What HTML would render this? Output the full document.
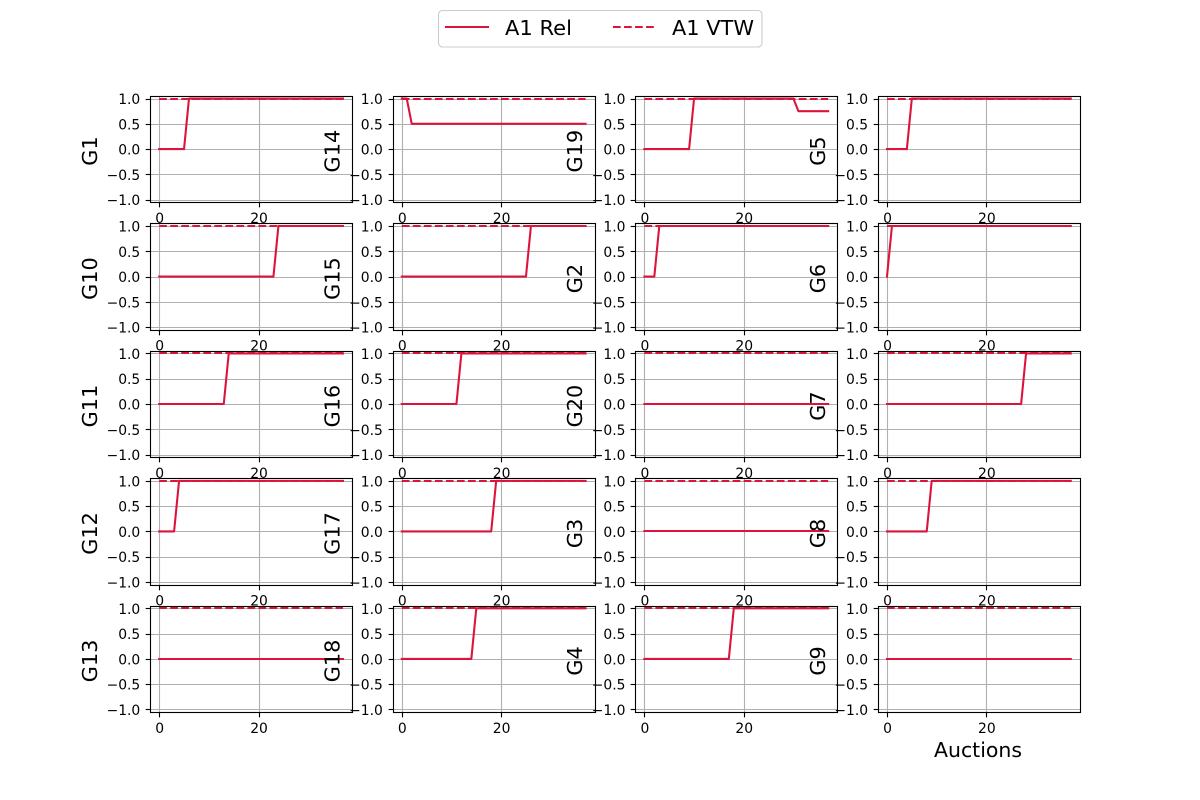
<!DOCTYPE html>
<html lang="en">
<head>
<meta charset="utf-8">
<title>A1 Rel and A1 VTW by group</title>
<style>
html,body{margin:0;padding:0;background:#fff;}
svg{display:block;font-family:"DejaVu Sans","Liberation Sans",sans-serif;}
</style>
</head>
<body>
<svg id="chart" xmlns="http://www.w3.org/2000/svg" width="1200" height="800" viewBox="0 0 1200 800">
  <rect x="0" y="0" width="1200" height="800" fill="#fff"/>
  <g id="panels"></g>
  <g>
    <rect x="438.5" y="10.5" width="323.5" height="36.5" rx="4" ry="4" fill="#fff" fill-opacity="0.8" stroke="#ccc" stroke-width="1.11"/>
    <line x1="446" y1="27" x2="488" y2="27" stroke="#dc143c" stroke-width="2.08" stroke-linecap="square"/>
    <text x="505" y="35" font-size="20.83" fill="#000" textLength="67" lengthAdjust="spacingAndGlyphs">A1 Rel</text>
    <line x1="613" y1="27" x2="655" y2="27" stroke="#dc143c" stroke-width="2.08" stroke-dasharray="7.7 3.33"/>
    <text x="672" y="35" font-size="20.83" fill="#000" textLength="82" lengthAdjust="spacingAndGlyphs">A1 VTW</text>
  </g>
</svg>
<script>
const auctions = [0,1,2,3,4,5,6,7,8,9,10,11,12,13,14,15,16,17,18,19,20,21,22,23,24,25,26,27,28,29,30,31,32,33,34,35,36,37];
const xTicks = [0, 20];
const yTicks = [-1, -0.5, 0, 0.5, 1];
const yTickLabels = ["\u22121.0", "\u22120.5", "0.0", "0.5", "1.0"];
const groupNames = ["G1","G10","G11","G12","G13","G14","G15","G16","G17","G18","G19","G2","G20","G3","G4","G5","G6","G7","G8","G9"];
const vtwValues = [1,1,1,1,1,1,1,1,1,1,1,1,1,1,1,1,1,1,1,1,1,1,1,1,1,1,1,1,1,1,1,1,1,1,1,1,1,1];
const relG1  = [0,0,0,0,0,0,1,1,1,1,1,1,1,1,1,1,1,1,1,1,1,1,1,1,1,1,1,1,1,1,1,1,1,1,1,1,1,1];
const relG10 = [0,0,0,0,0,0,0,0,0,0,0,0,0,0,0,0,0,0,0,0,0,0,0,0,1,1,1,1,1,1,1,1,1,1,1,1,1,1];
const relG11 = [0,0,0,0,0,0,0,0,0,0,0,0,0,0,1,1,1,1,1,1,1,1,1,1,1,1,1,1,1,1,1,1,1,1,1,1,1,1];
const relG12 = [0,0,0,0,1,1,1,1,1,1,1,1,1,1,1,1,1,1,1,1,1,1,1,1,1,1,1,1,1,1,1,1,1,1,1,1,1,1];
const relG13 = [0,0,0,0,0,0,0,0,0,0,0,0,0,0,0,0,0,0,0,0,0,0,0,0,0,0,0,0,0,0,0,0,0,0,0,0,0,0];
const relG14 = [1,1,0.5,0.5,0.5,0.5,0.5,0.5,0.5,0.5,0.5,0.5,0.5,0.5,0.5,0.5,0.5,0.5,0.5,0.5,0.5,0.5,0.5,0.5,0.5,0.5,0.5,0.5,0.5,0.5,0.5,0.5,0.5,0.5,0.5,0.5,0.5,0.5];
const relG15 = [0,0,0,0,0,0,0,0,0,0,0,0,0,0,0,0,0,0,0,0,0,0,0,0,0,0,1,1,1,1,1,1,1,1,1,1,1,1];
const relG16 = [0,0,0,0,0,0,0,0,0,0,0,0,1,1,1,1,1,1,1,1,1,1,1,1,1,1,1,1,1,1,1,1,1,1,1,1,1,1];
const relG17 = [0,0,0,0,0,0,0,0,0,0,0,0,0,0,0,0,0,0,0,1,1,1,1,1,1,1,1,1,1,1,1,1,1,1,1,1,1,1];
const relG18 = [0,0,0,0,0,0,0,0,0,0,0,0,0,0,0,1,1,1,1,1,1,1,1,1,1,1,1,1,1,1,1,1,1,1,1,1,1,1];
const relG19 = [0,0,0,0,0,0,0,0,0,0,1,1,1,1,1,1,1,1,1,1,1,1,1,1,1,1,1,1,1,1,1,0.75,0.75,0.75,0.75,0.75,0.75,0.75];
const relG2  = [0,0,0,1,1,1,1,1,1,1,1,1,1,1,1,1,1,1,1,1,1,1,1,1,1,1,1,1,1,1,1,1,1,1,1,1,1,1];
const relG20 = [0,0,0,0,0,0,0,0,0,0,0,0,0,0,0,0,0,0,0,0,0,0,0,0,0,0,0,0,0,0,0,0,0,0,0,0,0,0];
const relG3  = [0,0,0,0,0,0,0,0,0,0,0,0,0,0,0,0,0,0,0,0,0,0,0,0,0,0,0,0,0,0,0,0,0,0,0,0,0,0];
const relG4  = [0,0,0,0,0,0,0,0,0,0,0,0,0,0,0,0,0,0,1,1,1,1,1,1,1,1,1,1,1,1,1,1,1,1,1,1,1,1];
const relG5  = [0,0,0,0,0,1,1,1,1,1,1,1,1,1,1,1,1,1,1,1,1,1,1,1,1,1,1,1,1,1,1,1,1,1,1,1,1,1];
const relG6  = [0,1,1,1,1,1,1,1,1,1,1,1,1,1,1,1,1,1,1,1,1,1,1,1,1,1,1,1,1,1,1,1,1,1,1,1,1,1];
const relG7  = [0,0,0,0,0,0,0,0,0,0,0,0,0,0,0,0,0,0,0,0,0,0,0,0,0,0,0,0,1,1,1,1,1,1,1,1,1,1];
const relG8  = [0,0,0,0,0,0,0,0,0,1,1,1,1,1,1,1,1,1,1,1,1,1,1,1,1,1,1,1,1,1,1,1,1,1,1,1,1,1];
const relG9  = [0,0,0,0,0,0,0,0,0,0,0,0,0,0,0,0,0,0,0,0,0,0,0,0,0,0,0,0,0,0,0,0,0,0,0,0,0,0];
const relSeries = [relG1,relG10,relG11,relG12,relG13,relG14,relG15,relG16,relG17,relG18,relG19,relG2,relG20,relG3,relG4,relG5,relG6,relG7,relG8,relG9];
const xAxisTitle = "Auctions";

const SVG_NS = "http://www.w3.org/2000/svg";
const panelsRoot = document.getElementById("panels");
const LEFT = 150, TOP = 96.0, AX_W = 202.17, AX_H = 106.21, COL_STEP = 242.6, ROW_STEP = 127.45;
const INK = "#000", GRID = "#b0b0b0", COLOR = "#dc143c";

function make(tag, parent, attrs) {
  const el = document.createElementNS(SVG_NS, tag);
  for (const k in attrs) el.setAttribute(k, attrs[k]);
  parent.appendChild(el);
  return el;
}
/* same rounding the reference rasteriser applies to thin straight lines */
function snap(v) { return Math.floor(v + 0.5) + 0.5; }
function linePath(xs, ys, sx, sy) {
  const flat = ys.every(v => v === ys[0]);
  const py = flat ? (v => Math.floor(sy(v) + 0.5)) : sy;
  return xs.map((x, i) => (i ? "L" : "M") + sx(x).toFixed(2) + " " + py(ys[i]).toFixed(2)).join(" ");
}

groupNames.forEach((name, idx) => {
  const col = Math.floor(idx / 5), row = idx % 5;
  const key = name.toLowerCase();
  const x0 = LEFT + col * COL_STEP, y0 = TOP + row * ROW_STEP;
  const xMin = Math.min(...auctions), xMax = Math.max(...auctions);
  const xPad = (xMax - xMin) * 0.05;
  const sx = v => x0 + (v - (xMin - xPad)) / ((xMax - xMin) + 2 * xPad) * AX_W;
  const sy = v => y0 + (1.05 - v) / 2.1 * AX_H;
  const left = snap(x0), right = snap(x0 + AX_W), top = snap(y0), bottom = snap(y0 + AX_H);

  const g = make("g", panelsRoot, {});
  
  

  const bg = make("rect", g, { x: x0, y: y0, width: AX_W, height: AX_H, fill: "#fff" });
  
  

  xTicks.forEach(t => {
    const px = snap(sx(t));
    const gl = make("line", g, { x1: px, x2: px, y1: top, y2: bottom, stroke: GRID, "stroke-width": 1.11 });
    
    
  });
  yTicks.forEach(t => {
    const py = snap(sy(t));
    const gl = make("line", g, { x1: left, x2: right, y1: py, y2: py, stroke: GRID, "stroke-width": 1.11 });
    
    
  });

  const rel = make("path", g, { d: linePath(auctions, relSeries[idx], sx, sy), fill: "none", stroke: COLOR, "stroke-width": 2.08, "stroke-linecap": "square", "stroke-linejoin": "round" });
  
  

  const vtw = make("path", g, { d: linePath(auctions, vtwValues, sx, sy), fill: "none", stroke: COLOR, "stroke-width": 2.08, "stroke-dasharray": "7.7 3.33", "stroke-linecap": "butt" });
  
  

  const frame = make("rect", g, { x: left, y: top, width: right - left, height: bottom - top, fill: "none", stroke: INK, "stroke-width": 1.11 });
  
  

  xTicks.forEach(t => {
    const px = snap(sx(t));
    const tm = make("line", g, { x1: px, x2: px, y1: bottom, y2: bottom + 4.86, stroke: INK, "stroke-width": 1.11 });
    
    
    const tl = make("text", g, { x: sx(t) + 0.5, y: y0 + AX_H + 21, "font-size": 13.89, "text-anchor": "middle", fill: INK });
    tl.textContent = String(t);
    
    
  });
  yTicks.forEach((t, i) => {
    const py = snap(sy(t));
    const tm = make("line", g, { x1: left - 4.86, x2: left, y1: py, y2: py, stroke: INK, "stroke-width": 1.11 });
    
    
    const tl = make("text", g, { x: x0 - 9.72, y: sy(t) + 5.5, "font-size": 13.89, "text-anchor": "end", fill: INK });
    tl.textContent = yTickLabels[i];
    
    
  });

  const lx = x0 - 53, ly = y0 + AX_H / 2 + 2;
  const yl = make("text", g, { x: lx, y: ly, "font-size": 20.83, "text-anchor": "middle", fill: INK, transform: "rotate(-90 " + lx + " " + ly + ")" });
  yl.textContent = name;
  
  
});

const xt = make("text", panelsRoot, { x: 934, y: 757, "font-size": 20.83, fill: INK, textLength: 88, lengthAdjust: "spacingAndGlyphs" });
xt.textContent = xAxisTitle;


</script>
</body>
</html>
